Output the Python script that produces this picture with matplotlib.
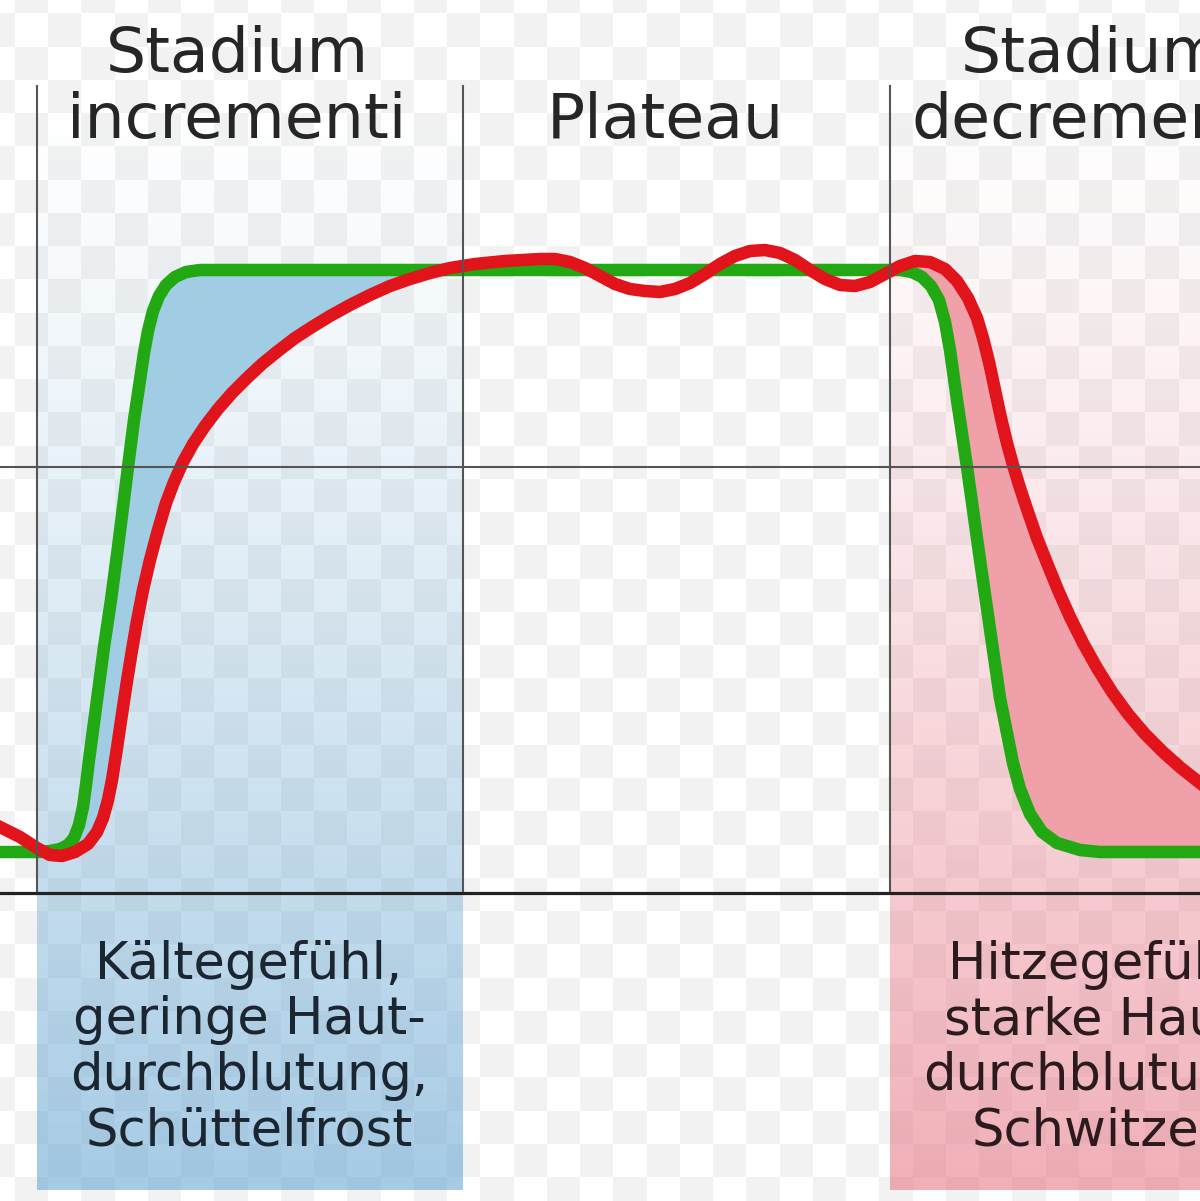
import numpy as np
import matplotlib.pyplot as plt
from matplotlib.colors import to_rgb

# Fieberverlauf: Sollwert (grün) und Körpertemperatur (rot), beliebige Einheiten
# Zeitachse: Stadiengrenzen bei 37, 463, 890; Temperatur: Achse bei 0, Hilfslinie bei 426
stage_bounds = [37, 463, 890]
stage_titles = ['Stadium\nincrementi', 'Plateau', 'Stadium\ndecrementi']
stage_title_t = [237, 665, 1092]
stage_notes = ['Kältegefühl,\ngeringe Haut-\ndurchblutung,\nSchüttelfrost',
               'Hitzegefühl,\nstarke Haut-\ndurchblutung,\nSchwitzen']
stage_note_t = [249, 1102]

soll_t = [0, 40, 50, 60, 68, 74, 79, 83, 86, 89, 97, 104, 111, 118, 128, 134, 140,
          144, 148, 153, 159, 166, 175, 186, 200, 900, 912, 922, 931, 939, 945, 950,
          957, 967, 980, 993, 1000, 1007, 1013, 1020, 1030, 1042, 1057, 1080, 1100,
          1200]
soll_temp = [41, 41, 42, 44, 48, 55, 68, 86, 108, 133, 193, 246, 293, 346, 426, 473,
             513, 540, 562, 582, 597, 608, 616, 621, 623, 623, 621, 616, 607, 593, 571,
             543, 493, 426, 333, 243, 195, 160, 130, 104, 79, 61, 50, 43, 41, 41]

ist_t = [0, 20, 37, 50, 62, 75, 88, 97, 103, 108, 112, 117, 122, 127, 132, 137, 143,
         150, 158, 166, 174, 183, 193, 205, 218, 232, 247, 262, 278, 295, 312, 330,
         350, 370, 390, 410, 430, 450, 475, 505, 540, 555, 570, 585, 600, 615, 630,
         645, 660, 675, 690, 705, 720, 735, 750, 765, 780, 795, 810, 825, 840, 855,
         870, 885, 900, 915, 930, 945, 957, 968, 977, 983, 989, 995, 1001, 1007, 1013,
         1020, 1028, 1037, 1047, 1058, 1070, 1083, 1097, 1112, 1128, 1145, 1163, 1181,
         1200]
ist_temp = [66, 56, 45, 38, 37, 41, 49, 61, 75, 93, 113, 145, 179, 212, 243, 272, 303,
            333, 363, 390, 411, 431, 449, 467, 484, 500, 515, 529, 542, 555, 566, 577,
            588, 598, 607, 614, 620, 625, 629, 632, 634, 634, 631, 625, 617, 609, 604,
            602, 601, 604, 610, 619, 629, 637, 642, 643, 640, 633, 623, 614, 608, 607,
            611, 619, 627, 632, 631, 624, 612, 595, 575, 555, 531, 503, 475, 450, 428,
            405, 381, 355, 330, 303, 276, 250, 225, 201, 179, 159, 141, 125, 110]

soll_t = np.array(soll_t); soll_temp = np.array(soll_temp)
ist_t = np.array(ist_t); ist_temp = np.array(ist_temp)

t0, t1, v0, v1 = 0, 1200, -308, 893
fig = plt.figure(figsize=(12, 12.01), dpi=100)
ax = fig.add_axes([0, 0, 1, 1])

# Karomuster (Transparenz-Hintergrund)
yy, xx = np.mgrid[0:1201, 0:1200]
karo = (np.floor((xx - 14.5) / 33.25) + np.floor((yy - 13) / 33.25)) % 2 == 1
ax.imshow(np.where(karo, 0.948, 1.0), cmap='gray', vmin=0, vmax=1,
          extent=(t0, t1, v0, v1), aspect='auto', interpolation='nearest', zorder=0)

# Farbverläufe der beiden Stadien
def panel(a, b, farbe, amax):
    rgba = np.zeros((256, 1, 4))
    rgba[..., :3] = to_rgb(farbe)
    rgba[:, 0, 3] = amax * np.linspace(0, 1, 256) ** 1.3
    ax.imshow(rgba, extent=(a, b, -297, 808), aspect='auto', zorder=1)

panel(37, 463, (100/255, 165/255, 210/255), 0.58)
panel(890, 1320, (230/255, 110/255, 125/255), 0.55)

# Flächen zwischen Soll- und Istwert
m1 = (soll_t >= 37) & (soll_t <= 450)
m2 = (ist_t >= 37) & (ist_t <= 450)
ax.fill(np.r_[soll_t[m1], ist_t[m2][::-1]], np.r_[soll_temp[m1], ist_temp[m2][::-1]],
        color='#a0cde4', lw=0, zorder=2)
m1 = soll_t >= 890
m2 = ist_t >= 890
ax.fill(np.r_[soll_t[m1], ist_t[m2][::-1]], np.r_[soll_temp[m1], ist_temp[m2][::-1]],
        color='#efa0a8', lw=0, zorder=2)

ax.plot(soll_t, soll_temp, color='#22a812', lw=9, solid_joinstyle='round', zorder=4)
ax.plot(ist_t, ist_temp, color='#e0141a', lw=9, solid_joinstyle='round', zorder=5)

# Hilfslinien und Achse
ax.vlines(stage_bounds, 0, 808, color='#555555', lw=1.5, zorder=6)
ax.axhline(426, color='#555555', lw=1.5, zorder=6)
ax.axhline(0, color='#222222', lw=2.3, zorder=6)

for t, s in zip(stage_title_t, stage_titles):
    ax.text(t, 755, s, ha='center', va='baseline', fontsize=45.5,
            linespacing=1.12, color='#262626', zorder=7)
for t, s, c in zip(stage_note_t, stage_notes, ['#1b2631', '#2b1b1e']):
    ax.text(t, -252, s, ha='center', va='baseline', fontsize=36.8,
            linespacing=1.14, color=c, zorder=7)

ax.set_xlim(t0, t1)
ax.set_ylim(v0, v1)
ax.axis('off')
fig.savefig('out.png', dpi=100)
